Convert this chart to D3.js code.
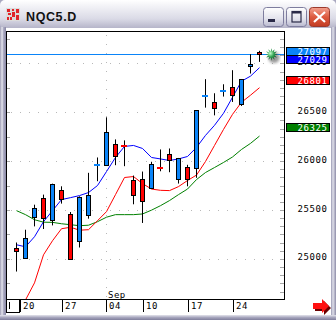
<!DOCTYPE html>
<html>
<head>
<meta charset="utf-8">
<script src="https://cdn.jsdelivr.net/npm/d3@7"></script>
<style>
body{margin:0;background:#fff;}
svg{display:block;}
</style>
</head>
<body>
<script>
var w=336, h=320;
var title="NQC5.D";

// daily bars, Aug 20 .. Sep 29
var open =[25111,25014,25429,25624,25398,25706,25463,25183,25453,25960,25963,26179,26156,25812,25819,25727,25930,26076,25819,25943,25932,26658,26603,26710,26764,26589,26969,27120];
var high =[25168,25299,25555,25658,25770,25743,25480,25640,25881,26038,26449,26223,26213,25853,25894,25994,26120,26130,26033,25963,26523,26839,26695,26787,26931,26841,27095,27129];
var low  =[24871,25001,25333,25306,25343,25566,24998,25117,25412,25795,25961,25959,25949,25559,25368,25725,25897,25887,25771,25743,25830,26548,26469,26661,26606,26565,26897,27016];
var close=[25080,25214,25522,25419,25768,25614,25004,25638,25655,25965,26302,26055,26152,25655,25589,25973,25926,26010,26031,25819,26521,26664,26548,26716,26682,26839,26993,27097];

// moving averages
var maFast=[25145,25124,25227,25381,25494,25607,25627,25648,25679,25751,25894,26038,26151,26161,26130,26038,26023,26007,26023,26048,26141,26264,26367,26490,26654,26818,26870,26957];
var maMid =[24529,24580,24755,25042,25186,25309,25324,25294,25299,25391,25484,25658,25833,25843,25771,25715,25702,25699,25740,25802,25858,25997,26161,26325,26479,26603,26675,26752];
var maSlow=[25494,25453,25401,25376,25374,25360,25350,25340,25345,25381,25427,25453,25453,25453,25460,25499,25545,25597,25658,25715,25812,25884,25935,25987,26043,26120,26182,26257];

var xTickIdx=[0,5,10,14,19,24];
var xTickLabels=["20","27","04","10","17","24"];
var monthIdx=10, monthLabel="Sep";
var yTicks=[25000,25500,26000,26500,27000];
var lastPrice=27097;
var tagValues=[27097,27029,26801,26325];
var tagColors=["#0a84f8","#0000ff","#ff0000","#008000"];

var px0=7, px1=284, py0=31, py1=299;

var svg=d3.select("body").append("svg").attr("width",w).attr("height",h)
	.style("font-family","'DejaVu Sans Mono',monospace");
var defs=svg.append("defs");

function grad(id,x2,y2,stops){
	var g=defs.append("linearGradient").attr("id",id)
		.attr("x1",0).attr("y1",0).attr("x2",x2).attr("y2",y2);
	stops.forEach(function(s){
		g.append("stop").attr("offset",s[0]).attr("stop-color",s[1]);
	});
}
grad("tbar",0,1,[[0,"#ffffff"],[0.2,"#f3f3f7"],[0.65,"#dadae6"],[1,"#b2b1c6"]]);
grad("lfrm",1,0,[[0,"#9d9cb4"],[0.35,"#e6e6ee"],[0.6,"#a9a8c0"],[1,"#8a89a6"]]);
grad("rfrm",1,0,[[0,"#9898b2"],[0.4,"#e0e0ea"],[1,"#8d8ca8"]]);
grad("bfrm",0,1,[[0,"#e4e4ec"],[0.5,"#a6a5bd"],[1,"#7f7e9c"]]);
grad("btn",0,1,[[0,"#ffffff"],[0.6,"#e2e2ec"],[1,"#b9b9cf"]]);
grad("cls",0,1,[[0,"#f4a290"],[0.5,"#dd5a3e"],[1,"#c23b22"]]);

var star=defs.append("radialGradient").attr("id","star").attr("cx",0.4).attr("cy",0.4).attr("r",0.6);
star.append("stop").attr("offset",0).attr("stop-color","#c8ffd0");
star.append("stop").attr("offset",0.5).attr("stop-color","#2fa050");
star.append("stop").attr("offset",1).attr("stop-color","#0a4a22");
defs.append("filter").attr("id","blur").append("feGaussianBlur").attr("stdDeviation",1.6);
defs.append("clipPath").attr("id","plotclip").append("rect")
	.attr("x",px0).attr("y",py0).attr("width",px1-px0).attr("height",py1-py0);

// window frame
svg.append("rect").attr("width",w).attr("height",h).attr("fill","#a9a8c0");
svg.append("rect").attr("x",0).attr("y",0).attr("width",w).attr("height",29).attr("rx",5).attr("fill","url(#tbar)");
svg.append("rect").attr("x",0).attr("y",27).attr("width",6).attr("height",h-27).attr("fill","url(#lfrm)");
svg.append("rect").attr("x",331).attr("y",27).attr("width",5).attr("height",h-27).attr("fill","url(#rfrm)");
svg.append("rect").attr("x",0).attr("y",315).attr("width",w).attr("height",5).attr("fill","url(#bfrm)");
svg.append("rect").attr("x",6).attr("y",28).attr("width",325).attr("height",287).attr("fill","#ffffff");

// title
var icon=svg.append("g");
icon.append("rect").attr("x",6).attr("y",8).attr("width",14).attr("height",13).attr("fill","#dcdcdc");
[[7,9,3,3],[12,9,2,2],[16,9,3,4],[8,13,3,2],[12,12,3,5],[7,17,2,3],[10,17,2,3],[16,15,3,5]].forEach(function(r){
	icon.append("rect").attr("x",r[0]).attr("y",r[1]).attr("width",r[2]).attr("height",r[3]).attr("fill","#e0242a");
});
svg.append("text").attr("x",26).attr("y",21).attr("font-family","'Liberation Sans',Arial,sans-serif")
	.attr("font-weight","bold").attr("font-size",12.5).attr("letter-spacing",0.6).attr("fill","#111").text(title);

// caption buttons
svg.append("rect").attr("x",263.5).attr("y",7.5).attr("width",20).attr("height",19).attr("rx",3)
	.attr("fill","url(#btn)").attr("stroke","#7e7d9e");
svg.append("rect").attr("x",268).attr("y",19).attr("width",7).attr("height",3).attr("fill","#2a2a48");
svg.append("rect").attr("x",286.5).attr("y",7.5).attr("width",20).attr("height",19).attr("rx",3)
	.attr("fill","url(#btn)").attr("stroke","#7e7d9e");
svg.append("rect").attr("x",292).attr("y",11.5).attr("width",9).attr("height",10.5)
	.attr("fill","none").attr("stroke","#2a2a48").attr("stroke-width",1.2);
svg.append("rect").attr("x",292).attr("y",11).attr("width",9).attr("height",2.5).attr("fill","#2a2a48");
svg.append("rect").attr("x",309.5).attr("y",7.5).attr("width",20).attr("height",19).attr("rx",3)
	.attr("fill","url(#cls)").attr("stroke","#9b3a2c");
svg.append("path").attr("d","M314,12L325,22M325,12L314,22").attr("stroke","#fff").attr("stroke-width",2.2);

// scales
var x=d3.scaleLinear().domain([0,27]).range([16.5,259.5]);
var y=d3.scaleLinear().domain([24590,27332]).range([py1,py0]);

// plot area
svg.append("rect").attr("x",px0).attr("y",py0).attr("width",px1-px0).attr("height",py1-py0).attr("fill","#fff");
var plot=svg.append("g").attr("clip-path","url(#plotclip)");

// dotted grid
plot.selectAll(".hg").data(yTicks).enter().append("line")
	.attr("x1",px0+4).attr("x2",px1).attr("y1",function(d){return Math.round(y(d))+0.5;})
	.attr("y2",function(d){return Math.round(y(d))+0.5;})
	.attr("stroke","#b8b8b8").attr("stroke-dasharray","1,8");
plot.append("line").attr("x1",Math.round(x(monthIdx))+0.5).attr("x2",Math.round(x(monthIdx))+0.5)
	.attr("y1",py0+4).attr("y2",py1).attr("stroke","#b8b8b8").attr("stroke-dasharray","1,8");

// edge ticks
var leftTicks=d3.range(24750,27332,250);
plot.selectAll(".lt").data(leftTicks).enter().append("line")
	.attr("x1",px0).attr("x2",px0+3).attr("y1",function(d){return Math.round(y(d))+0.5;})
	.attr("y2",function(d){return Math.round(y(d))+0.5;}).attr("stroke","#a8a8a8");
var rightTicks=d3.range(0,33).map(function(i){return 24666.67+i*500/6;});
plot.selectAll(".rt").data(rightTicks).enter().append("line")
	.attr("x1",px1-4).attr("x2",px1).attr("y1",function(d){return Math.round(y(d))+0.5;})
	.attr("y2",function(d){return Math.round(y(d))+0.5;}).attr("stroke","#a8a8a8");

// last price line
plot.append("line").attr("x1",px0).attr("x2",px1)
	.attr("y1",Math.round(y(lastPrice))+0.5).attr("y2",Math.round(y(lastPrice))+0.5)
	.attr("stroke","#0a84f8");

// moving averages
var line=d3.line().x(function(d,i){return x(i);}).y(function(d){return y(d);});
[[maSlow,"#008000"],[maMid,"#ff0000"],[maFast,"#0000ff"]].forEach(function(m){
	plot.append("path").attr("d",line(m[0])).attr("fill","none").attr("stroke",m[1]).attr("stroke-width",1);
});

// candles
var bars=d3.range(open.length);
var cg=plot.selectAll(".c").data(bars).enter().append("g");
cg.append("line")
	.attr("x1",function(i){return x(i);}).attr("x2",function(i){return x(i);})
	.attr("y1",function(i){return y(high[i]);}).attr("y2",function(i){return y(low[i]);})
	.attr("stroke","#000");
cg.each(function(i){
	var g=d3.select(this);
	var up=close[i]>=open[i];
	var col=up?"#0a84f8":"#ff0000";
	if(Math.abs(close[i]-open[i])<10){
		g.append("rect").attr("x",x(i)-3.5).attr("y",Math.round(y(close[i]))-1)
			.attr("width",6).attr("height",2).attr("fill",col);
	}else{
		var t=Math.round(y(Math.max(open[i],close[i]))), b=Math.round(y(Math.min(open[i],close[i])));
		g.append("rect").attr("x",x(i)-2).attr("y",t+0.5).attr("width",4).attr("height",Math.max(1,b-t))
			.attr("fill",col).attr("stroke","#000");
	}
});

// current price marker
var cx=271.5, cy=54.5;
svg.append("circle").attr("cx",cx+2.5).attr("cy",cy+3).attr("r",5.5).attr("fill","#555").attr("opacity",0.6).attr("filter","url(#blur)");
var pts=d3.range(24).map(function(k){
	var a=k*Math.PI/12, r=(k%2==0)?6.2:3.2;
	return [cx+r*Math.cos(a),cy+r*Math.sin(a)];
});
svg.append("polygon").attr("points",pts.map(function(p){return p.join(",");}).join(" ")).attr("fill","url(#star)");

// plot border
svg.append("rect").attr("x",px0-0.5).attr("y",py0+0.5).attr("width",px1-px0+1).attr("height",py1-py0)
	.attr("fill","none").attr("stroke","#000");

// right axis labels
svg.selectAll(".yl").data(yTicks).enter().append("text")
	.attr("x",297.5).attr("y",function(d){return y(d)+1.5;})
	.attr("font-size",9).attr("letter-spacing",0.6).attr("fill","#000")
	.text(function(d){return d;});

// value tags
var prevBottom=-1;
tagValues.forEach(function(v,k){
	var top=Math.round(y(v)-6.5);
	if(top<prevBottom) top=prevBottom;
	prevBottom=top+8;
	svg.append("rect").attr("x",286.5).attr("y",top+0.5).attr("width",43).attr("height",8)
		.attr("fill",tagColors[k]).attr("stroke","#000");
	svg.append("text").attr("x",297.5).attr("y",top+7.5).attr("font-size",9).attr("letter-spacing",0.6)
		.attr("fill","#fff").text(v);
});

// x axis
svg.selectAll(".xt").data(xTickIdx).enter().append("line")
	.attr("x1",function(d){return Math.max(20,Math.round(x(d)))+0.5;})
	.attr("x2",function(d){return Math.max(20,Math.round(x(d)))+0.5;})
	.attr("y1",py1).attr("y2",312).attr("stroke","#000");
svg.selectAll(".xl").data(xTickIdx).enter().append("text")
	.attr("x",function(d){return Math.max(20,Math.round(x(d)))+3;})
	.attr("y",309).attr("font-size",9).attr("letter-spacing",0.5).attr("fill","#000")
	.text(function(d,i){return xTickLabels[i];});
svg.append("text").attr("x",Math.round(x(monthIdx))+2).attr("y",297.5).attr("font-size",9)
	.attr("letter-spacing",0.5).attr("fill","#000").text(monthLabel);
svg.append("rect").attr("x",6.5).attr("y",299.5).attr("width",13).attr("height",13)
	.attr("fill","#fff").attr("stroke","#000");
svg.append("line").attr("x1",9.5).attr("x2",9.5).attr("y1",302).attr("y2",309).attr("stroke","#000");

// scroll arrow
svg.append("path").attr("d","M315,305H324V301L331,308L324,315V311H315Z").attr("fill","#6a0000");
svg.append("path").attr("d","M313,303H322V299L329,306L322,313V309H313Z").attr("fill","#ff1010");
</script>
</body>
</html>
